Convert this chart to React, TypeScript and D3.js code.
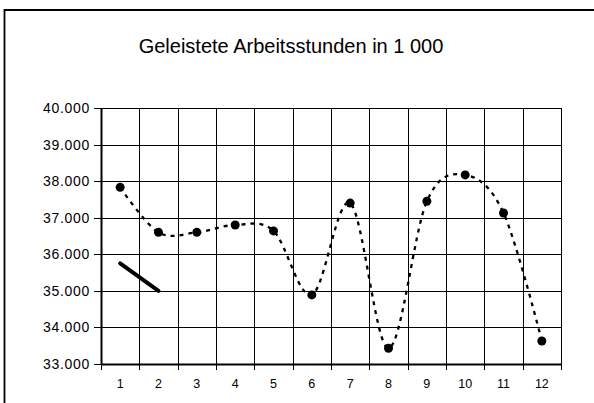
import React, { useRef, useEffect } from 'react';
import * as d3 from 'd3';

// Monate 1..12
const months = ['1', '2', '3', '4', '5', '6', '7', '8', '9', '10', '11', '12'];
// Geleistete Arbeitsstunden (in 1 000)
const hours = [37.83, 36.6, 36.6, 36.8, 36.64, 34.89, 37.4, 33.43, 37.45, 38.17, 37.13, 33.63];
// kurze durchgezogene Linie (nur Monat 1 und 2)
const trend = [35.75, 35.0];
const yTicks = [33, 34, 35, 36, 37, 38, 39, 40];
const title = 'Geleistete Arbeitsstunden in 1 000';

const W = 594;
const H = 403;

const App = () => {
  const svgRef = useRef<SVGSVGElement | null>(null);

  useEffect(() => {
    const svg = d3.select(svgRef.current);
    svg.selectAll('*').remove();

    const font = 'Arial, "Liberation Sans", sans-serif';
    const left = 101, right = 561, top = 108, bottom = 364;

    const x = d3.scaleBand().domain(months).range([left, right]).padding(0);
    const y = d3.scaleLinear().domain([33, 40]).range([bottom, top]);
    const cx = (m: string) => (x(m) as number) + x.bandwidth() / 2;

    // Rahmen des Diagramms
    svg.append('path')
      .attr('d', `M4.5,${H} V10 H${W}`)
      .attr('fill', 'none')
      .attr('stroke', '#000')
      .attr('stroke-width', 1.8);

    // Titel
    svg.append('text')
      .attr('x', 291)
      .attr('y', 53)
      .attr('text-anchor', 'middle')
      .attr('font-family', font)
      .attr('font-size', 20)
      .attr('fill', '#000')
      .text(title);

    // Gitter horizontal
    svg.append('g')
      .selectAll('line')
      .data(yTicks)
      .join('line')
      .attr('x1', left - 7)
      .attr('x2', right)
      .attr('y1', d => Math.round(y(d)) + 0.5)
      .attr('y2', d => Math.round(y(d)) + 0.5)
      .attr('stroke', '#000')
      .attr('stroke-width', 1);

    // Gitter vertikal
    const bounds = months.map(m => x(m) as number).concat([right]);
    svg.append('g')
      .selectAll('line')
      .data(bounds)
      .join('line')
      .attr('x1', d => Math.round(d) + 0.5)
      .attr('x2', d => Math.round(d) + 0.5)
      .attr('y1', top)
      .attr('y2', bottom + 6)
      .attr('stroke', '#000')
      .attr('stroke-width', 1);

    // Achsen
    svg.append('line')
      .attr('x1', left + 0.5).attr('x2', left + 0.5)
      .attr('y1', top).attr('y2', bottom + 1)
      .attr('stroke', '#000').attr('stroke-width', 2);
    svg.append('line')
      .attr('x1', left).attr('x2', right + 1)
      .attr('y1', bottom + 0.5).attr('y2', bottom + 0.5)
      .attr('stroke', '#000').attr('stroke-width', 2);

    // Y-Beschriftung
    svg.append('g')
      .selectAll('text')
      .data(yTicks)
      .join('text')
      .attr('x', 90)
      .attr('y', d => y(d) + 5)
      .attr('text-anchor', 'end')
      .attr('font-family', font)
      .attr('font-size', 14)
      .attr('letter-spacing', 0.7)
      .attr('fill', '#000')
      .text(d => d.toFixed(3));

    // X-Beschriftung
    svg.append('g')
      .selectAll('text')
      .data(months)
      .join('text')
      .attr('x', d => cx(d))
      .attr('y', 388)
      .attr('text-anchor', 'middle')
      .attr('font-family', font)
      .attr('font-size', 12.5)
      .attr('fill', '#000')
      .text(d => d);

    // geglättete gestrichelte Linie
    const line = d3.line<number>()
      .x((_, i) => cx(months[i]))
      .y(d => y(d))
      .curve(d3.curveCardinal.tension(0));

    svg.append('path')
      .datum(hours)
      .attr('d', line)
      .attr('fill', 'none')
      .attr('stroke', '#000')
      .attr('stroke-width', 2.3)
      .attr('stroke-dasharray', '4,5');

    svg.append('g')
      .selectAll('circle')
      .data(hours)
      .join('circle')
      .attr('cx', (_, i) => cx(months[i]))
      .attr('cy', d => y(d))
      .attr('r', 4.5)
      .attr('fill', '#000');

    // durchgezogene Linie
    const line2 = d3.line<number>()
      .x((_, i) => cx(months[i]))
      .y(d => y(d));
    svg.append('path')
      .datum(trend)
      .attr('d', line2)
      .attr('fill', 'none')
      .attr('stroke', '#000')
      .attr('stroke-width', 4)
      .attr('stroke-linecap', 'round');
  }, []);

  return (
    <svg
      ref={svgRef}
      width={W}
      height={H}
      style={{ position: 'absolute', left: 0, top: 0, background: '#fff', display: 'block' }}
    />
  );
};

export default App;
